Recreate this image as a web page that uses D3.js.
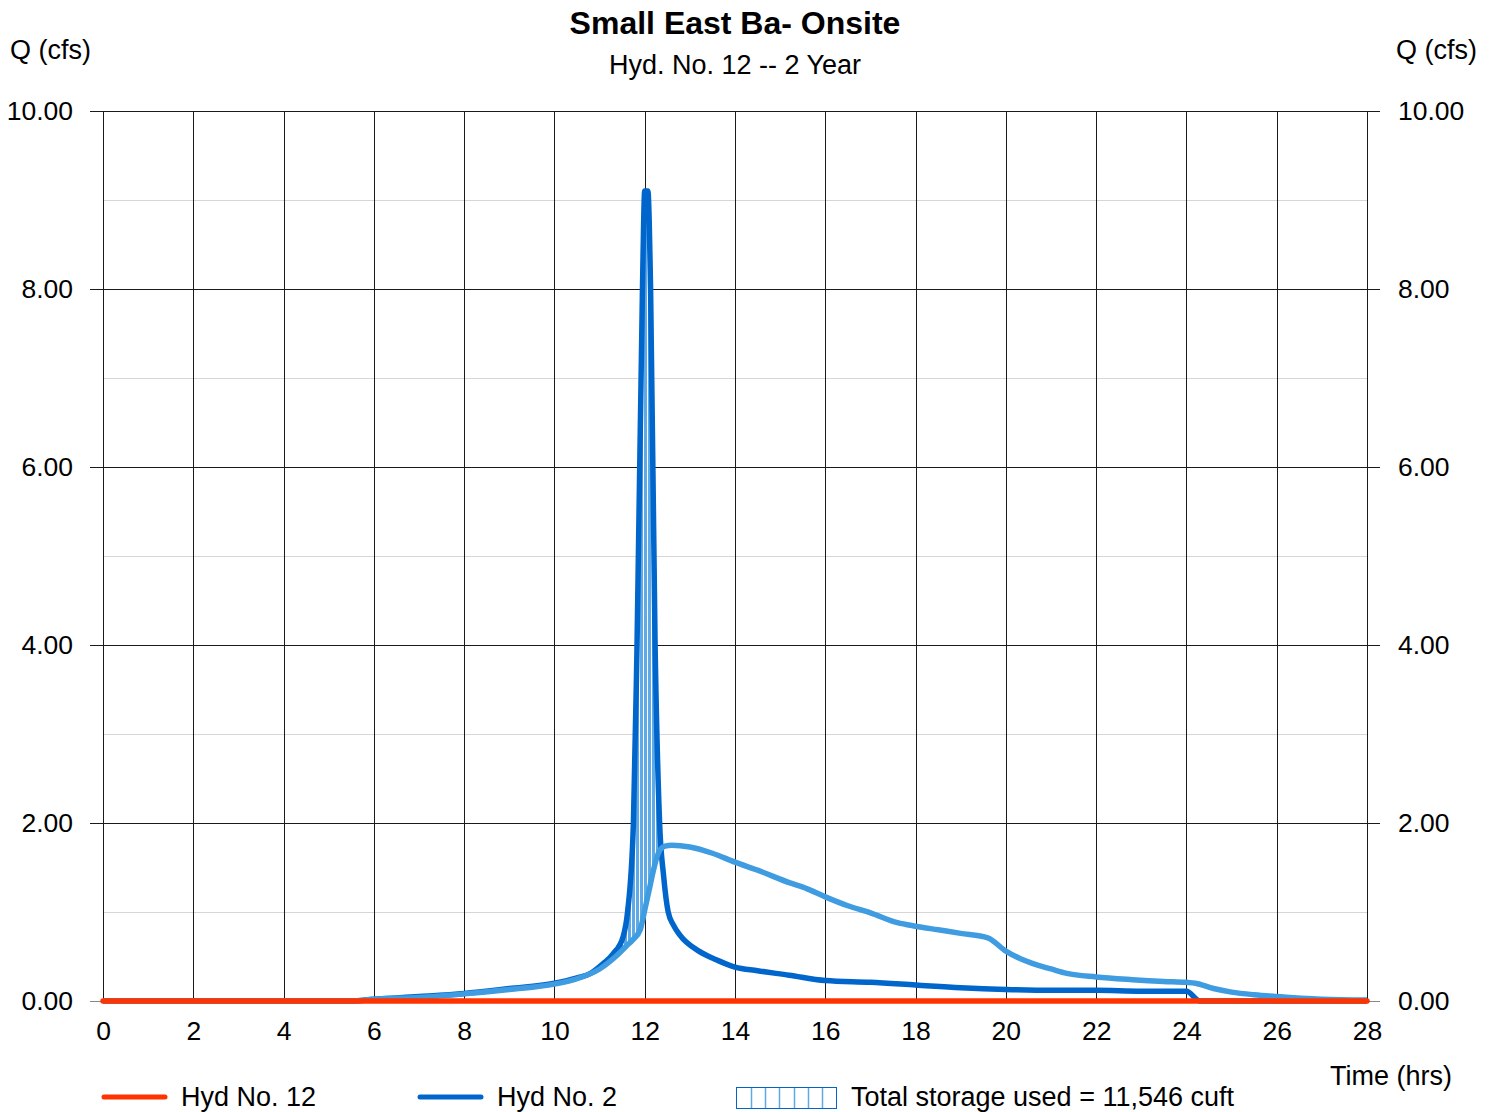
<!DOCTYPE html>
<html>
<head>
<meta charset="utf-8">
<script src="https://cdn.jsdelivr.net/npm/d3@7"></script>
<style>
  html, body { margin: 0; padding: 0; background: #fff; }
  svg { display: block; font-family: "Liberation Sans", Arial, sans-serif; }
</style>
</head>
<body>
<svg id="chart" width="1494" height="1112"></svg>
<script>
// Hydrograph data: time (hrs) and flow (cfs)
const hyd12Time = [0, 28];
const hyd12Q    = [0, 0];

const hyd2Time = [0, 5.5, 6, 7, 8, 9, 10, 10.5, 10.8, 11.08, 11.3, 11.52, 11.62, 11.75, 11.83, 11.95, 12.0,
                  12.07, 12.13, 12.23, 12.33, 12.42, 12.52, 12.64, 12.78, 13.2, 13.6, 14.0, 14.5, 15.2, 16.0,
                  17.0, 18.0, 19.0, 20.0, 21.0, 22.0, 23.0, 24.0, 24.3, 28];
const hyd2Q    = [0, 0, 0.02, 0.05, 0.085, 0.14, 0.2, 0.26, 0.31, 0.42, 0.53, 0.72, 1.0, 2.0, 4.0, 8.0, 9.1,
                  9.1, 8.0, 4.0, 2.0, 1.4, 1.0, 0.85, 0.74, 0.56, 0.46, 0.38, 0.34, 0.29, 0.23,
                  0.21, 0.18, 0.15, 0.13, 0.12, 0.12, 0.11, 0.11, 0, 0];

const routedTime = [0, 5.5, 6, 7, 8, 9, 10, 10.5, 11.0, 11.4, 11.6, 11.74, 11.9, 12.0, 12.1, 12.18, 12.26, 12.34,
                    12.45, 12.6, 13.0, 13.5, 14.0, 14.5, 15.2, 15.6, 16.0, 16.5, 17.0, 17.6, 18.0, 18.5, 19.0,
                    19.6, 20.0, 20.3, 20.6, 21.0, 21.35, 22.0, 22.8, 23.5, 24.0, 24.2, 24.6, 25.0, 25.5, 26.0,
                    27.0, 28.0];
const routedQ    = [0, 0, 0.02, 0.04, 0.08, 0.13, 0.19, 0.25, 0.36, 0.52, 0.62, 0.69, 0.8, 1.02, 1.25, 1.44, 1.6, 1.7,
                    1.74, 1.75, 1.73, 1.66, 1.56, 1.47, 1.33, 1.26, 1.17, 1.07, 0.99, 0.88, 0.84, 0.8, 0.76,
                    0.71, 0.56, 0.48, 0.42, 0.36, 0.31, 0.27, 0.24, 0.22, 0.21, 0.2, 0.14, 0.1, 0.07, 0.05,
                    0.02, 0.01];

const xTicks = [0, 2, 4, 6, 8, 10, 12, 14, 16, 18, 20, 22, 24, 26, 28];
const yTicks = [0, 2, 4, 6, 8, 10];
const yMinor = [1, 3, 5, 7, 9];

const titleText = "Small East Ba- Onsite";
const subtitleText = "Hyd. No. 12 -- 2 Year";
const storageText = "Total storage used = 11,546 cuft";

const RED = "#ff3300", DARK = "#0066cc", LIGHT = "#409ce0", HATCH = "#5eaae6";
const FS = 27;

const svg = d3.select("#chart");
const x = d3.scaleLinear().domain([0, 28]).range([103, 1367]);
const y = d3.scaleLinear().domain([0, 10]).range([1001, 111]);
const crisp = v => Math.round(v) + 0.5;

// hatch pattern for storage
const defs = svg.append("defs");
const pat = defs.append("pattern").attr("id", "hatch").attr("patternUnits", "userSpaceOnUse")
  .attr("width", 4).attr("height", 10);
pat.append("rect").attr("x", 0).attr("y", 0).attr("width", 4).attr("height", 10).attr("fill", "#ffffff");
pat.append("rect").attr("x", 0).attr("y", 0).attr("width", 3).attr("height", 10).attr("fill", HATCH);

// grid
const grid = svg.append("g");
grid.selectAll(".minor").data(yMinor).join("line")
  .attr("x1", x(0)).attr("x2", x(28))
  .attr("y1", d => crisp(y(d))).attr("y2", d => crisp(y(d)))
  .attr("stroke", "#d6d6d6").attr("stroke-width", 1);
grid.selectAll(".vline").data(xTicks).join("line")
  .attr("x1", d => crisp(x(d))).attr("x2", d => crisp(x(d)))
  .attr("y1", y(10)).attr("y2", y(0))
  .attr("stroke", "#1a1a1a").attr("stroke-width", 1);
grid.selectAll(".major").data(yTicks).join("line")
  .attr("x1", x(0) - 13).attr("x2", x(28) + 13)
  .attr("y1", d => crisp(y(d))).attr("y2", d => crisp(y(d)))
  .attr("stroke", d => d === 0 ? "#888" : "#1a1a1a").attr("stroke-width", 1);

// axes labels via d3 axes
const fmt = d3.format(".2f");
const leftAxis = svg.append("g").attr("transform", `translate(${x(0)},0)`)
  .call(d3.axisLeft(y).tickValues(yTicks).tickFormat(fmt).tickSize(0).tickPadding(30));
const rightAxis = svg.append("g").attr("transform", `translate(${x(28)},0)`)
  .call(d3.axisRight(y).tickValues(yTicks).tickFormat(fmt).tickSize(0).tickPadding(31));
const bottomAxis = svg.append("g").attr("transform", `translate(0,${y(0)})`)
  .call(d3.axisBottom(x).tickValues(xTicks).tickFormat(d3.format("d")).tickSize(0).tickPadding(20));
[leftAxis, rightAxis, bottomAxis].forEach(a => {
  a.select(".domain").remove();
  a.selectAll("text").attr("font-size", 26.5).attr("fill", "#000")
    .style("font-family", '"Liberation Sans", Arial, sans-serif');
});

// storage area between inflow and routed curves
function interp(ts, qs, t) {
  if (t <= ts[0]) return qs[0];
  for (let i = 1; i < ts.length; i++) {
    if (t <= ts[i]) {
      const f = (t - ts[i - 1]) / (ts[i] - ts[i - 1]);
      return qs[i - 1] + f * (qs[i] - qs[i - 1]);
    }
  }
  return qs[qs.length - 1];
}
const tGrid = Array.from(new Set(hyd2Time.concat(routedTime))).sort((a, b) => a - b)
  .filter(t => t >= 11.4 && t <= 12.45);
const band = tGrid.map(t => ({ t, hi: interp(hyd2Time, hyd2Q, t), lo: interp(routedTime, routedQ, t) }))
  .filter(d => d.hi >= d.lo);
svg.append("path").datum(band)
  .attr("d", d3.area().x(d => x(d.t)).y0(d => y(d.lo)).y1(d => y(d.hi)))
  .attr("fill", "url(#hatch)");

// hydrograph lines
const line = d3.line().x(d => x(d[0])).y(d => y(d[1])).curve(d3.curveMonotoneX);
const zip = (a, b) => a.map((v, i) => [v, b[i]]);
svg.append("path").datum(zip(hyd2Time, hyd2Q)).attr("d", line)
  .attr("fill", "none").attr("stroke", DARK).attr("stroke-width", 5.5).attr("stroke-linejoin", "round");
svg.append("path").datum(zip(routedTime, routedQ)).attr("d", line)
  .attr("fill", "none").attr("stroke", LIGHT).attr("stroke-width", 5.5).attr("stroke-linejoin", "round");
svg.append("path").datum(zip(hyd12Time, hyd12Q)).attr("d", d3.line().x(d => x(d[0])).y(d => y(d[1])))
  .attr("fill", "none").attr("stroke", RED).attr("stroke-width", 5.5).attr("stroke-linecap", "round");

// titles
svg.append("text").attr("x", 735).attr("y", 34).attr("text-anchor", "middle")
  .attr("font-size", 32).attr("font-weight", "bold").text(titleText);
svg.append("text").attr("x", 735).attr("y", 74).attr("text-anchor", "middle")
  .attr("font-size", FS).text(subtitleText);
svg.append("text").attr("x", 10).attr("y", 59).attr("font-size", FS).text("Q (cfs)");
svg.append("text").attr("x", 1477).attr("y", 59).attr("text-anchor", "end").attr("font-size", FS).text("Q (cfs)");
svg.append("text").attr("x", 1452).attr("y", 1085).attr("text-anchor", "end").attr("font-size", FS).text("Time (hrs)");

// legend
const lg = svg.append("g");
lg.append("line").attr("x1", 104).attr("x2", 165).attr("y1", 1097).attr("y2", 1097)
  .attr("stroke", RED).attr("stroke-width", 5).attr("stroke-linecap", "round");
lg.append("text").attr("x", 181).attr("y", 1106).attr("font-size", FS).text("Hyd No. 12");
lg.append("line").attr("x1", 420).attr("x2", 481).attr("y1", 1097).attr("y2", 1097)
  .attr("stroke", DARK).attr("stroke-width", 5).attr("stroke-linecap", "round");
lg.append("text").attr("x", 497).attr("y", 1106).attr("font-size", FS).text("Hyd No. 2");
const bx = 736.5, by = 1087.5, bw = 100, bh = 21;
lg.selectAll(".cell").data(d3.range(1, 7)).join("line")
  .attr("x1", i => Math.round(bx + i * bw / 7) + 0.5).attr("x2", i => Math.round(bx + i * bw / 7) + 0.5)
  .attr("y1", by).attr("y2", by + bh).attr("stroke", HATCH).attr("stroke-width", 1.5);
lg.append("rect").attr("x", bx).attr("y", by).attr("width", bw).attr("height", bh)
  .attr("fill", "none").attr("stroke", DARK).attr("stroke-width", 1);
lg.append("text").attr("x", 851).attr("y", 1106).attr("font-size", FS).text(storageText);
</script>
</body>
</html>
